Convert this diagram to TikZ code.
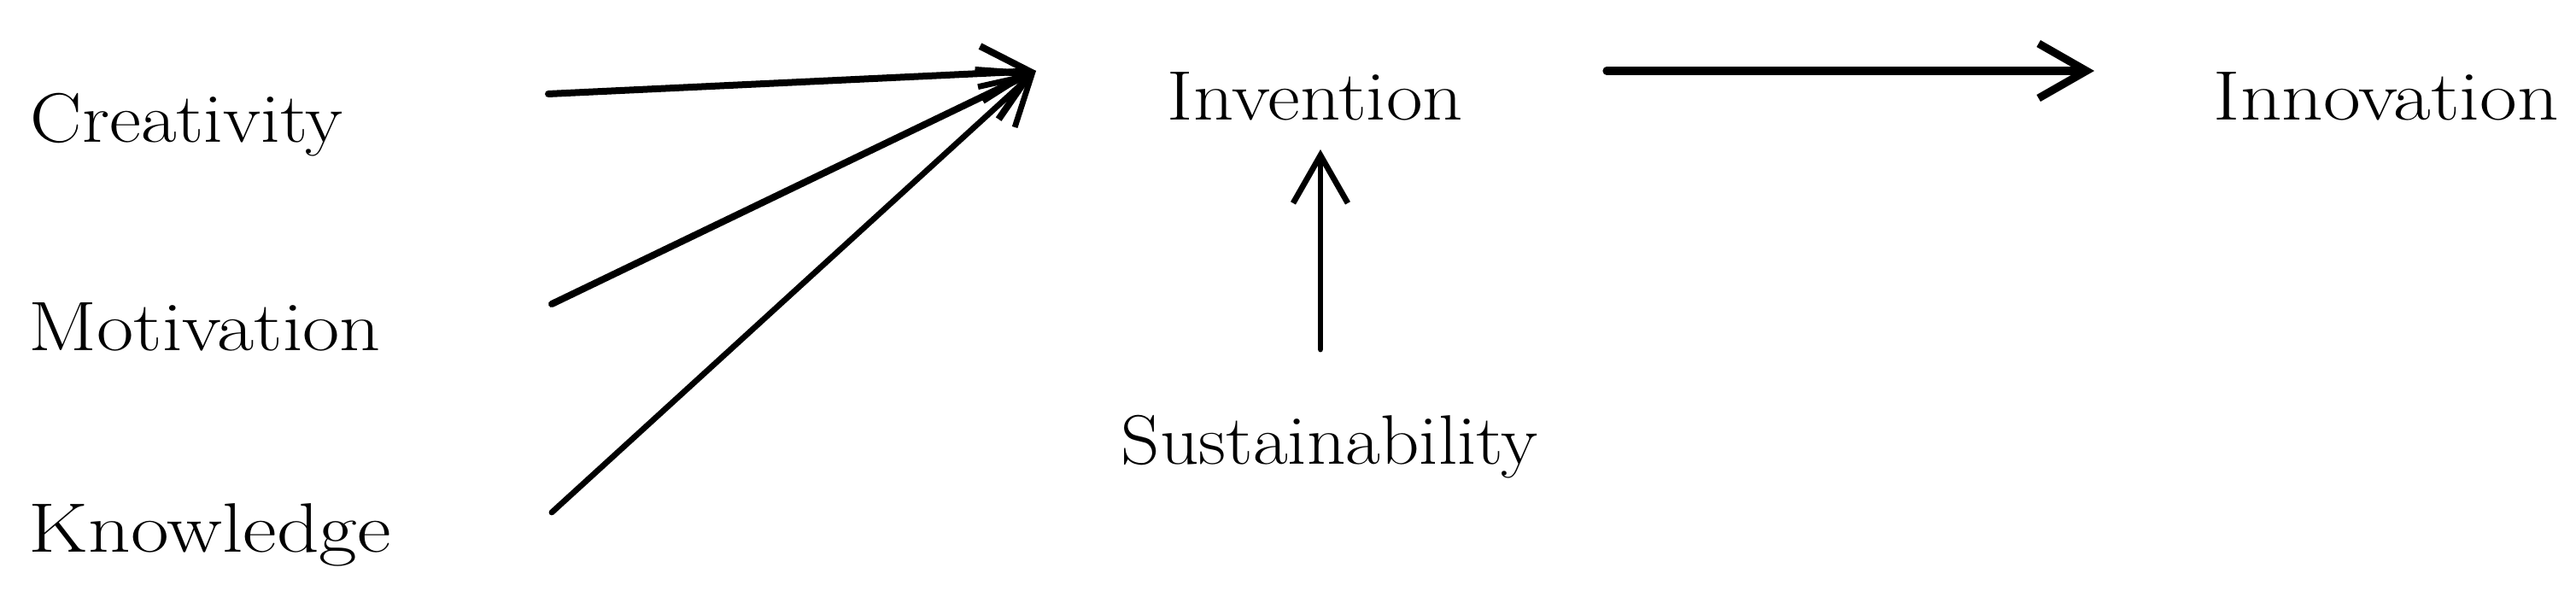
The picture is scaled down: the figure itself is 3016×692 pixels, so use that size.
\documentclass[tikz,border=0pt]{standalone}
\usepackage{graphicx}
\usetikzlibrary{arrows.meta}
\newcommand{\fitw}[2]{\resizebox{#1}{\height}{#2}}
\begin{document}
\begin{tikzpicture}[x=0.25pt,y=-0.25pt,
  lbl/.style={inner sep=0pt, anchor=base west, font=\fontsize{20.5}{24}\selectfont},
  conn/.style={line width=2pt, line cap=round, -{Straight Barb[length=14pt,width=16pt]}},
  thinconn/.style={conn, line width=1.7pt},
  thickconn/.style={conn, line width=2.3pt}
]
\useasboundingbox (0,0) rectangle (3016,692);
% labels
\node[lbl] (cre) at (35,167) {\fitw{91.5pt}{Creativity}};
\node[lbl] (mot) at (33,411) {\fitw{103pt}{Motivation}};
\node[lbl] (kno) at (33,647) {\fitw{106pt}{Knowledge}};
\node[lbl] (inv) at (1366,141) {\fitw{86.5pt}{Invention}};
\node[lbl] (inn) at (2591,141) {\fitw{101pt}{Innovation}};
\node[lbl] (sus) at (1312,544) {\fitw{122pt}{Sustainability}};
% connector end points
\coordinate (creout) at (642,110);
\coordinate (motout) at (646,356);
\coordinate (knoout) at (646,600);
\coordinate (invin) at (1213,83);
\coordinate (susout) at (1546,409);
\coordinate (invbelow) at (1546,175);
\coordinate (invout) at (1881,83);
\coordinate (innin) at (2452,83);
% connectors
\draw[conn] (creout) -- (invin);
\draw[conn] (motout) -- (invin);
\draw[thinconn] (knoout) -- (invin);
\draw[thinconn] (susout) -- (invbelow);
\draw[thickconn] (invout) -- (innin);
\end{tikzpicture}
\end{document}
